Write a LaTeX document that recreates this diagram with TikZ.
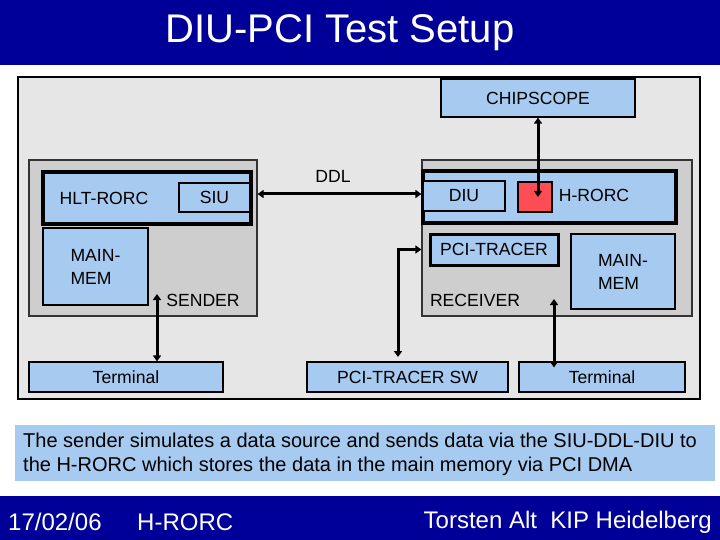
\documentclass[tikz,border=0pt]{standalone}
\usepackage{fontspec}
\setmainfont{Liberation Sans}
\usetikzlibrary{arrows.meta}
\definecolor{slideblue}{RGB}{0,0,153}
\definecolor{boxblue}{RGB}{166,202,240}
\definecolor{panelgray}{RGB}{230,230,230}
\definecolor{unitgray}{RGB}{206,206,206}
\definecolor{chipred}{RGB}{255,77,85}
\newcommand{\fs}[1]{\fontsize{#1}{1.2\dimexpr#1pt\relax}\selectfont}
\newcommand{\unit}[7][box]{
  \node[#1,minimum width={(#5-#3)*1pt},minimum height={(#6-#4)*1pt}] (#2) at ({(#3+#5)/2},{(#4+#6)/2}) {#7};
}
\tikzset{
  box/.style={draw=black,fill=boxblue,line width=1.2pt,inner sep=0pt,font=\fs{17.6}},
  heavy/.style={box,line width=3.5pt},
  frame/.style={draw=black!80,fill=unitgray,line width=1.2pt,inner sep=0pt},
  tag/.style={font=\fs{17.6},inner sep=0pt},
  conn/.style={line width=3pt,{Triangle[length=6pt,width=8pt]}-{Triangle[length=6pt,width=8pt]}}
}
\begin{document}
\begin{tikzpicture}[x=1pt,y=-1pt]
  \useasboundingbox[fill=white] (0,0) rectangle (720,540);
  \fill[slideblue] (0,0) rectangle (720,65);
  \node[text=white,font=\fs{40}] (title) at (340,33) {DIU-PCI Test Setup};
  \unit[draw=black,fill=panelgray,line width=2.5pt,inner sep=0pt]{panel}{18}{77}{700}{399}{}
  \unit{chip}{441}{79}{635}{117}{CHIPSCOPE}
  \unit[frame]{sender}{29}{160}{257}{316}{}
  \unit[heavy]{hlt}{43}{172}{251}{224}{}
  \unit[box,line width=1.5pt]{siu}{179}{183}{250}{212}{SIU}
  \unit[box,align=left,font=\fontsize{17.6}{23}\selectfont]{memS}{43}{228}{148}{305}{MAIN-\\MEM}
  \unit[frame]{receiver}{422}{160}{692}{316}{}
  \unit[heavy]{hrorc}{423}{171}{676}{223}{}
  \unit[box,line width=1.5pt]{diu}{423}{181}{505}{211}{DIU}
  \unit[box,fill=chipred]{red}{518}{182}{552}{212}{}
  \unit[box,line width=3pt]{tracer}{430}{234}{558}{265}{PCI-TRACER}
  \unit[box,align=left,font=\fontsize{17.6}{23}\selectfont]{memR}{571}{234}{675}{309}{MAIN-\\MEM}
  \unit{termL}{29}{362}{223}{392}{Terminal}
  \unit{tracersw}{307}{362}{508}{392}{PCI-TRACER SW}
  \unit{termR}{519}{362}{685}{392}{Terminal}
  \node[tag] (hltlbl) at (104,198) {HLT-RORC};
  \node[tag] (hrorclbl) at (594,195) {H-RORC};
  \node[tag] (senderlbl) at (203,300) {SENDER};
  \node[tag] (receiverlbl) at (475,300) {RECEIVER};
  \node[tag] (ddllbl) at (333,176) {DDL};
  \coordinate (ddl) at (0,194);
  \coordinate (swtop) at (398,357);
  \coordinate (tl) at (157,294);
  \coordinate (tr) at (554,299);
  \draw[conn] (sender.east |- ddl) -- (receiver.west |- ddl);
  \draw[conn] (chip.south) -- (chip.south |- red.center);
  \draw[conn] (receiver.west |- tracer.center) -| (swtop);
  \draw[conn] (tl) -- (tl |- termL.north);
  \draw[conn,shorten >=-6pt] (tr) -- (tr |- termR.north);
  \unit[fill=boxblue,inner sep=0pt]{note}{15}{425}{715}{481}{}
  \node[anchor=west,align=left,inner sep=0pt,font=\fontsize{20}{24}\selectfont] (notetext) at (23,454)
    {The sender simulates a data source and sends data via the SIU-DDL-DIU to\\the H-RORC which stores the data in the main memory via PCI DMA};
  \fill[slideblue] (0,496) rectangle (720,540);
  \node[anchor=west,text=white,inner sep=0pt,font=\fs{24}] (date) at (8,522) {17/02/06};
  \node[anchor=west,text=white,inner sep=0pt,font=\fs{24}] (topic) at (137,522) {H-RORC};
  \node[anchor=east,text=white,inner sep=0pt,font=\fs{24}] (author) at (712,522) {Torsten Alt\ \ KIP Heidelberg};
\end{tikzpicture}
\end{document}
